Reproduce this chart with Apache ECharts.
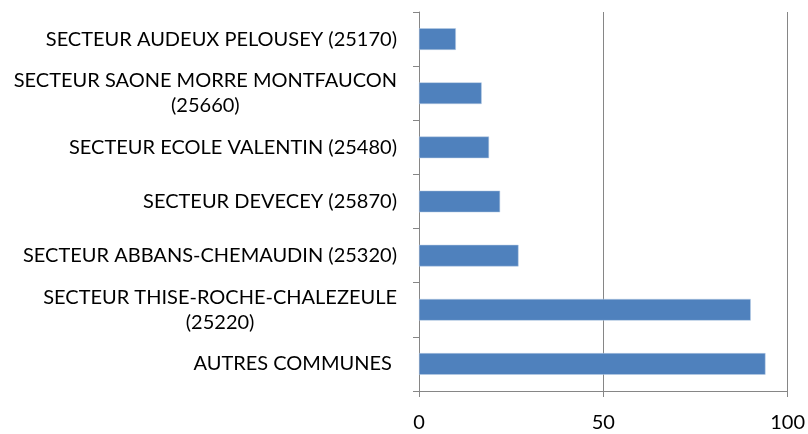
<!DOCTYPE html>
<html>
<head>
<meta charset="utf-8">
<script src="https://cdn.jsdelivr.net/npm/echarts@6.0.0/dist/echarts.min.js"></script>
<style>
  html, body { margin: 0; padding: 0; background: #fff; }
  #chart { width: 808px; height: 434px; }
</style>
</head>
<body>
<div id="chart"></div>
<script>
// categories bottom -> top (category axis starts at the bottom)
const secteurs = [
    'AUTRES COMMUNES ',
    'SECTEUR THISE-ROCHE-CHALEZEULE\n(25220)',
    'SECTEUR ABBANS-CHEMAUDIN (25320)',
    'SECTEUR DEVECEY (25870)',
    'SECTEUR ECOLE VALENTIN (25480)',
    'SECTEUR SAONE MORRE MONTFAUCON\n(25660)',
    'SECTEUR AUDEUX PELOUSEY (25170)'
];
const effectifs = [94, 90, 27, 22, 19, 17, 10];
const xTicks = [0, 50, 100];

const chart = echarts.init(document.getElementById('chart'));
const police = 'Lato, "Open Sans", sans-serif';

chart.setOption({
    animation: false,
    grid: { left: 419, right: 20, top: 12, bottom: 43 },
    xAxis: {
        type: 'value', min: xTicks[0], max: xTicks[xTicks.length - 1], interval: xTicks[1] - xTicks[0],
        axisLine: { show: true, lineStyle: { color: '#868686', width: 1 } },
        axisTick: { show: true, length: 6, lineStyle: { color: '#868686' } },
        splitLine: { show: true, lineStyle: { color: '#868686', width: 1 } },
        axisLabel: { color: '#000', fontSize: 20, fontFamily: police, margin: 22 }
    },
    yAxis: {
        type: 'category', data: secteurs,
        axisLine: { show: true, lineStyle: { color: '#868686', width: 1 } },
        axisTick: { show: true, length: 6, lineStyle: { color: '#868686' } },
        axisLabel: {
            color: '#000', fontSize: 20, fontFamily: police, margin: 22, lineHeight: 25,
            formatter: v => '{c|' + v.split('\n').join('}\n{c|') + '}',
            rich: { c: { align: 'center', color: '#000', fontSize: 20, fontFamily: police, lineHeight: 25 } }
        }
    },
    series: [{
        type: 'bar', data: effectifs, barCategoryGap: '60%',
        itemStyle: { color: '#4f81bd', borderColor: '#b9cde5', borderWidth: 0.5 }
    }]
});
</script>
</body>
</html>
